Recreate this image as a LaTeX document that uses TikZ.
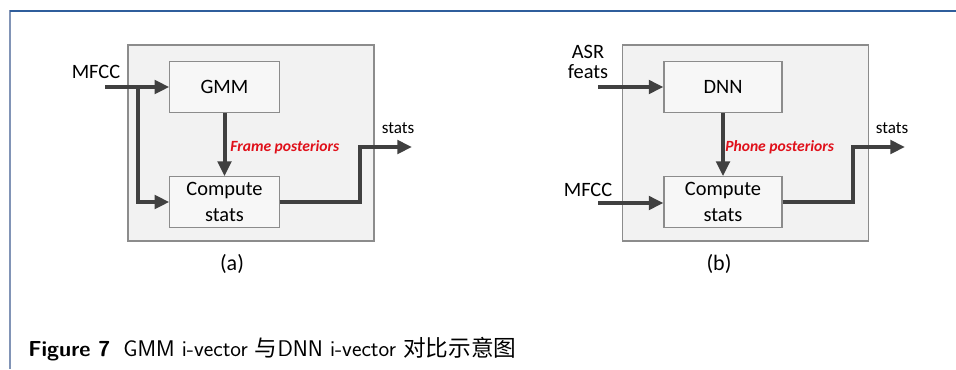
\documentclass[tikz,border=0pt]{standalone}
\usepackage{fontspec}
\setmainfont{Carlito}
\newfontfamily\cjk{Noto Sans CJK SC}
\usetikzlibrary{arrows.meta,positioning}
\definecolor{framblue}{HTML}{2F5E9C}
\definecolor{framgray}{HTML}{8194B6}
\definecolor{flowgray}{HTML}{404040}
\definecolor{boxline}{HTML}{8C8C8C}
\definecolor{boxfill}{HTML}{F2F2F2}
\definecolor{postred}{HTML}{E0101A}

\tikzset{
  outerbox/.style={draw=boxline, fill=boxfill, line width=0.8pt, minimum width=184.5pt, minimum height=147pt},
  unit/.style={draw=boxline, fill=boxfill!60!white, line width=0.8pt, minimum width=82pt, minimum height=38pt,
    align=center, font=\fontsize{15.3}{19.5}\selectfont},
  flow/.style={flowgray, line width=3pt, -{Triangle[length=11pt,width=10pt]}},
  lbl/.style={font=\fontsize{15.3}{17}\selectfont, align=center, inner sep=0pt},
  post/.style={postred, font=\fontsize{11.7}{13}\selectfont\bfseries\itshape, anchor=west, inner sep=0pt},
  statlbl/.style={font=\fontsize{12.8}{14}\selectfont, inner sep=0pt}
}

\begin{document}
\begin{tikzpicture}[x=0.75pt,y=-0.75pt]
    \useasboundingbox (0,0) rectangle (956,369);
    % Frame lines
    \draw[framgray, line width=1.2pt] (10,10) -- (10,369);
    \draw[framblue, line width=1.5pt] (9.5,10.5) -- (956,10.5);

    % Panel (a)
    \node[outerbox] (boxa) at (251,143) {};
    \node[unit] (gmm) at (224.5,87) {GMM};
    \node[unit] (csa) at (224.5,202) {Compute\\stats};
    \node[lbl] (mfcca) at (96,72) {MFCC};
    \coordinate (ina) at (105,87);
    \coordinate (splita) at (138,87);
    \coordinate (cornera) at (360,147);
    \coordinate (outa) at (412,147);
    \draw[flow] (ina) -- (gmm.west);
    \draw[flow] (splita) |- (csa.west);
    \draw[flow] (gmm) -- (csa);
    \node[post] (posta) at (230,147) {Frame posteriors};
    \draw[flow, line join=miter] (csa.east) -| (cornera) -- (outa);
    \node[statlbl] (statsa) at (398,128) {stats};
    \node[lbl, font=\fontsize{16.5}{18}\selectfont] (capa) at (232,264) {(a)};

    % Panel (b)
    \node[outerbox] (boxb) at (745.5,143) {};
    \node[unit, minimum width=88.5pt] (dnn) at (723,87) {DNN};
    \node[unit, minimum width=88.5pt] (csb) at (723,202) {Compute\\stats};
    \node[lbl] (asr) at (588,62) {ASR\\[-2pt]feats};
    \node[lbl] (mfccb) at (588,190) {MFCC};
    \coordinate (inasr) at (598,87);
    \coordinate (inmfcc) at (598,203);
    \coordinate (cornerb) at (853,147);
    \coordinate (outb) at (905,147);
    \draw[flow] (inasr) -- (dnn.west);
    \draw[flow] (inmfcc) -- (csb.west |- inmfcc);
    \draw[flow] (dnn) -- (csb);
    \node[post] (postb) at (725,147) {Phone posteriors};
    \draw[flow, line join=miter] (csb.east) -| (cornerb) -- (outb);
    \node[statlbl] (statsb) at (892,128) {stats};
    \node[lbl, font=\fontsize{16.5}{18}\selectfont] (capb) at (719,264) {(b)};

    % Caption
    \node[anchor=base west, inner sep=0pt, font=\sffamily\fontsize{16.3}{18}\selectfont] (figcap) at (28,356)
      {\textbf{Figure 7}\hspace{0.6em}{\fontsize{17}{18}\selectfont GMM i-vector {\cjk 与}DNN i-vector {\cjk 对比示意图}}};
\end{tikzpicture}
\end{document}
